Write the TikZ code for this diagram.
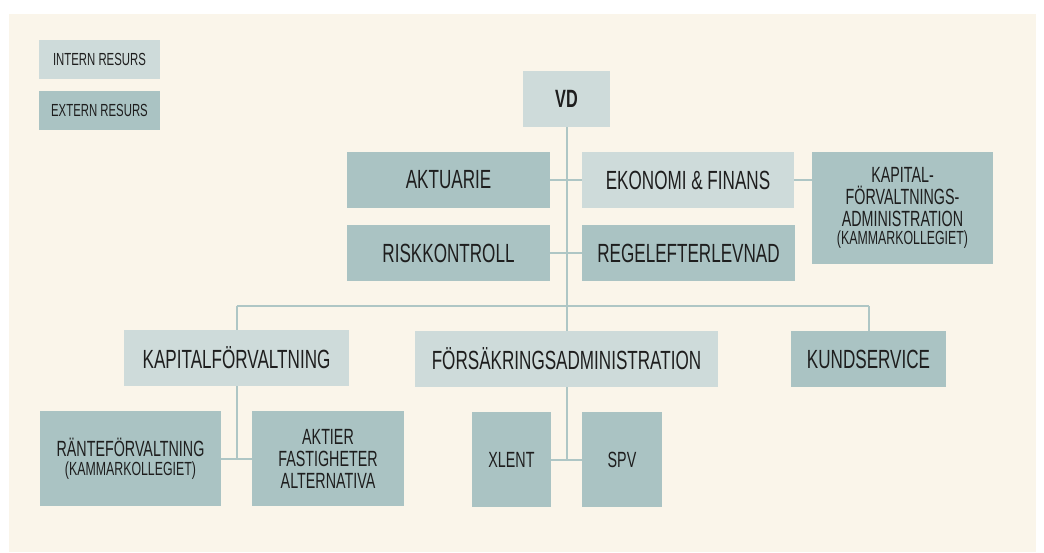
\documentclass[tikz,border=0pt]{standalone}
\usepackage{fontspec}
\setmainfont[FakeStretch=0.65]{Liberation Sans}
\definecolor{cream}{HTML}{FAF5EA}
\definecolor{light}{HTML}{CEDBDA}
\definecolor{dark}{HTML}{AAC3C3}
\definecolor{ink}{HTML}{1E1E1E}
\definecolor{lineC}{HTML}{AEC6C5}
\tikzset{
  box/.style={inner sep=0pt, outer sep=0pt, text=ink, align=center},
  intbox/.style={box, fill=light},
  extbox/.style={box, fill=dark},
  sz/.style 2 args={minimum width=#1pt, minimum height=#2pt},
  big/.style={font=\fontsize{26.3}{28}\selectfont},
  med/.style={font=\fontsize{22}{22}\selectfont},
  leg/.style={font=\fontsize{17.5}{20}\selectfont},
  conn/.style={draw=lineC, line width=2pt}
}
\newcommand{\smalltxt}{\fontsize{19}{19}\selectfont}
\begin{document}
\begin{tikzpicture}[x=1pt,y=-1pt]
\useasboundingbox (0,0) rectangle (1044,552);
\fill[white] (0,0) rectangle (1044,552);
\fill[cream] (9,14) rectangle (1036,552);
% legend
\node[intbox, sz={121}{39}, leg] (intern) at (99.5,59.5) {INTERN RESURS};
\node[extbox, sz={121}{39}, leg] (extern) at (99.5,110.5) {EXTERN RESURS};
% top
\node[intbox, sz={87}{56}, font=\fontsize{25}{26}\selectfont\bfseries] (vd) at (566.5,99) {VD};
\node[extbox, sz={203}{56}, big] (akt) at (448.5,180) {AKTUARIE};
\node[intbox, sz={212}{56}, big] (eko) at (688,180) {EKONOMI \& FINANS};
\node[extbox, sz={203}{56}, big] (risk) at (448.5,253) {RISKKONTROLL};
\node[extbox, sz={213}{56}, big] (regel) at (688.5,253) {REGELEFTERLEVNAD};
\node[extbox, sz={181}{112}, med] (kadm) at (902.5,208) {KAPITAL-\\FÖRVALTNINGS-\\ADMINISTRATION\\[-4pt]{\smalltxt (KAMMARKOLLEGIET)}};
% middle
\node[intbox, sz={225}{56}, big] (kapf) at (236.5,358) {KAPITALFÖRVALTNING};
\node[intbox, sz={303}{56}, big] (fors) at (566.5,359) {FÖRSÄKRINGSADMINISTRATION};
\node[extbox, sz={155}{56}, big] (kund) at (868.5,359) {KUNDSERVICE};
% bottom
\node[extbox, sz={181}{95}, med] (rante) at (130.5,458.5) {RÄNTEFÖRVALTNING\\[-3pt]{\smalltxt (KAMMARKOLLEGIET)}};
\node[extbox, sz={152}{95}, med] (aktier) at (328,458.5) {AKTIER\\FASTIGHETER\\ALTERNATIVA};
\node[extbox, sz={79}{95}, med] (xlent) at (511.5,459.5) {XLENT};
\node[extbox, sz={80}{95}, med] (spv) at (622,459.5) {SPV};
% connectors
\coordinate (busL) at (236.5,306);
\coordinate (busM) at (566.5,306);
\coordinate (busR) at (868.5,306);
\draw[conn] (vd.south) -- (busM);
\draw[conn] (akt.east) -- (eko.west);
\draw[conn] (risk.east) -- (regel.west);
\draw[conn] (eko.east) -- (eko.east -| kadm.west);
\draw[conn] (busL) -- (busR);
\draw[conn] (busL) -- (kapf.north);
\draw[conn] (busM) -- (fors.north);
\draw[conn] (busR) -- (kund.north);
\draw[conn] (kapf.south) -- (kapf.south |- rante.east);
\draw[conn] (rante.east) -- (aktier.west);
\draw[conn] (fors.south) -- (fors.south |- xlent.east);
\draw[conn] (xlent.east) -- (spv.west);
\end{tikzpicture}
\end{document}
